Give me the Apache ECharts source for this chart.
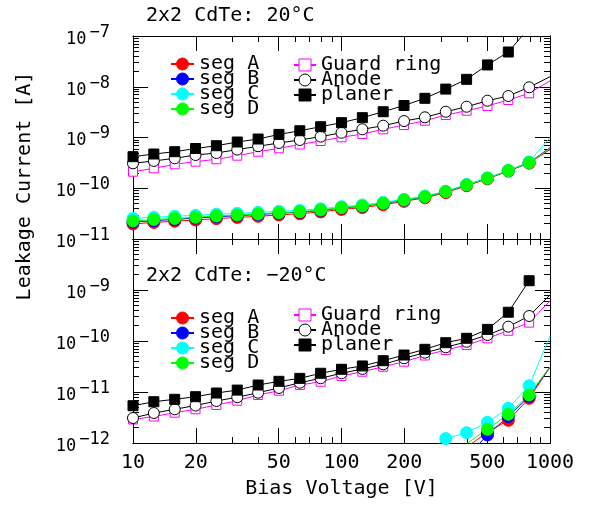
<!DOCTYPE html>
<html>
<head>
<meta charset="utf-8">
<script src="https://cdn.jsdelivr.net/npm/echarts@6/dist/echarts.min.js"></script>
<style>
  html, body { margin: 0; background: #fff; }
  #chart { width: 589px; height: 506px; }
</style>
</head>
<body>
<div id="chart"></div>
<script>
// bias voltage points (V), last one only carries the line to the frame
const bias = [10, 12.59, 15.85, 19.95, 25.12, 31.62, 39.81, 50.12, 63.10, 79.43, 100,
              125.9, 158.5, 199.5, 251.2, 316.2, 398.1, 501.2, 631.0, 794.3, 1000];

// 20°C panel (A)
const segA_hot = [1.98e-11, 2.12e-11, 2.24e-11, 2.37e-11, 2.52e-11, 2.66e-11, 2.80e-11, 2.98e-11, 3.14e-11, 3.42e-11, 3.82e-11,
                  4.16e-11, 4.72e-11, 5.52e-11, 6.48e-11, 8.2e-11, 1.12e-10, 1.53e-10, 2.18e-10, 3.12e-10, 5.8e-10];
const segB_hot = [2.15e-11, 2.30e-11, 2.43e-11, 2.58e-11, 2.74e-11, 2.88e-11, 3.03e-11, 3.22e-11, 3.38e-11, 3.66e-11, 4.08e-11,
                  4.42e-11, 5.0e-11, 5.82e-11, 6.78e-11, 8.52e-11, 1.16e-10, 1.57e-10, 2.22e-10, 3.2e-10, 6.3e-10];
const segC_hot = [2.55e-11, 2.68e-11, 2.80e-11, 2.93e-11, 3.08e-11, 3.20e-11, 3.34e-11, 3.52e-11, 3.66e-11, 3.94e-11, 4.34e-11,
                  4.68e-11, 5.26e-11, 6.06e-11, 7.0e-11, 8.75e-11, 1.18e-10, 1.6e-10, 2.26e-10, 3.3e-10, 1.0e-9];
const segD_hot = [2.26e-11, 2.42e-11, 2.54e-11, 2.68e-11, 2.84e-11, 2.97e-11, 3.11e-11, 3.30e-11, 3.45e-11, 3.73e-11, 4.14e-11,
                  4.47e-11, 5.05e-11, 5.86e-11, 6.81e-11, 8.55e-11, 1.16e-10, 1.57e-10, 2.22e-10, 3.19e-10, 6.1e-10];
const guard_hot = [2.12e-10, 2.47e-10, 2.96e-10, 3.34e-10, 3.72e-10, 4.38e-10, 5.25e-10, 6.12e-10, 7.28e-10, 8.53e-10, 1.01e-9,
                   1.17e-9, 1.45e-9, 1.76e-9, 2.14e-9, 2.77e-9, 3.37e-9, 4.18e-9, 5.48e-9, 7.43e-9, 1.31e-8];
const anode_hot = [3.10e-10, 3.45e-10, 3.89e-10, 4.52e-10, 4.95e-10, 5.78e-10, 6.72e-10, 7.80e-10, 8.93e-10, 1.04e-9, 1.24e-9,
                   1.45e-9, 1.71e-9, 2.11e-9, 2.50e-9, 3.22e-9, 4.04e-9, 5.31e-9, 6.57e-9, 9.75e-9, 1.58e-8];
const planer_hot = [4.19e-10, 4.73e-10, 5.25e-10, 6.07e-10, 6.89e-10, 8.15e-10, 9.33e-10, 1.15e-9, 1.36e-9, 1.63e-9, 1.96e-9,
                    2.46e-9, 3.22e-9, 4.27e-9, 5.92e-9, 9.0e-9, 1.40e-8, 2.69e-8, 4.84e-8, 1.45e-7, null];

// -20°C panel (A)
const segA_cold = [null, null, null, null, null, null, null, null, null, null, null,
                   null, null, null, null, null, 8.2e-13, 1.64e-12, 2.79e-12, 7.52e-12, 3.05e-11];
const segB_cold = [null, null, null, null, null, null, null, null, null, null, null,
                   null, null, null, null, null, 5.2e-13, 1.44e-12, 3.3e-12, 8.2e-12, 3.1e-11];
const segC_cold = [null, null, null, null, null, null, null, null, null, null, null,
                   null, null, null, 6e-13, 1.22e-12, 1.59e-12, 2.55e-12, 4.79e-12, 1.33e-11, 1.25e-10];
const segD_cold = [null, null, null, null, null, null, null, null, null, null, null,
                   null, null, null, null, null, 9.7e-13, 1.86e-12, 3.66e-12, 8.73e-12, 3.13e-11];
const guard_cold = [2.89e-12, 3.31e-12, 3.93e-12, 4.58e-12, 5.56e-12, 6.75e-12, 8.73e-12, 1.06e-11, 1.37e-11, 1.59e-11, 2.06e-11,
                    2.50e-11, 3.13e-11, 3.93e-11, 5.20e-11, 6.67e-11, 8.36e-11, 1.13e-10, 1.59e-10, 2.29e-10, 6.17e-10];
const anode_cold = [3.09e-12, 3.87e-12, 4.58e-12, 5.43e-12, 6.67e-12, 7.91e-12, 9.69e-12, 1.20e-11, 1.52e-11, 1.86e-11, 2.33e-11,
                    2.83e-11, 3.49e-11, 4.58e-11, 5.90e-11, 7.52e-11, 9.68e-11, 1.31e-10, 1.91e-10, 3.09e-10, 7.98e-10];
const planer_cold = [5.38e-12, 6.45e-12, 7.19e-12, 8.09e-12, 9.55e-12, 1.09e-11, 1.37e-11, 1.62e-11, 1.85e-11, 2.33e-11, 2.79e-11,
                     3.24e-11, 4.11e-11, 5.31e-11, 6.87e-11, 9.26e-11, 1.13e-10, 1.69e-10, 3.66e-10, 1.52e-9, null];

// axis ticks and labels
const xLabels = [10, 20, 50, 100, 200, 500, 1000];
const xMajor = [20, 50, 100, 200, 500];
const xMinor = [20, 30, 40, 60, 70, 80, 90, 200, 300, 400, 600, 700, 800, 900];
const hotDecades = [1e-11, 1e-10, 1e-9, 1e-8, 1e-7];
const coldDecades = [1e-12, 1e-11, 1e-10, 1e-9, 1e-8];
const coldLabels = [1e-12, 1e-11, 1e-10, 1e-9];

const FONT = 'DejaVu Sans Mono';

// 2..9 x 10^n between the decades
function minorOf(decades) {
  const out = [];
  for (let i = 0; i < decades.length - 1; i++) {
    for (let m = 2; m <= 9; m++) out.push(m * decades[i]);
  }
  return out;
}

function xAxisDef(grid, pos, ticks, len, withLabels) {
  return {
    type: 'log', logBase: 10, gridIndex: grid, position: pos, min: 10, max: 1000,
    axisLine: { show: true, onZero: false, lineStyle: { color: '#000', width: 1 } },
    axisTick: { show: true, inside: true, length: len, customValues: ticks, lineStyle: { color: '#000', width: 1 } },
    minorTick: { show: false },
    splitLine: { show: false },
    axisLabel: withLabels
      ? { show: true, customValues: xLabels, margin: 10, color: '#000', fontFamily: FONT, fontSize: 20,
          formatter: v => String(Math.round(v)) }
      : { show: false }
  };
}

function yAxisDef(grid, pos, min, max, ticks, len, labels) {
  return {
    type: 'log', logBase: 10, gridIndex: grid, position: pos, min: min, max: max,
    axisLine: { show: true, onZero: false, lineStyle: { color: '#000', width: 1 } },
    axisTick: { show: true, inside: true, length: len, customValues: ticks, lineStyle: { color: '#000', width: 1 } },
    minorTick: { show: false },
    splitLine: { show: false },
    axisLabel: labels
      ? {
          show: true, customValues: labels, margin: 23, color: '#000',
          formatter: v => '{b|10}{s|\u2212' + Math.round(-Math.log10(v)) + '}',
          rich: {
            b: { fontFamily: FONT, fontSize: 17, color: '#000', verticalAlign: 'bottom', padding: [0, 3, 0, 0] },
            s: { fontFamily: FONT, fontSize: 17, color: '#000', verticalAlign: 'bottom', padding: [0, 0, 7, 0] }
          }
        }
      : { show: false }
  };
}

// open markers get a white fill and a thin coloured border
const styles = {
  'seg A': { symbol: 'circle', size: 12, color: '#ff0000', fill: '#ff0000' },
  'seg B': { symbol: 'circle', size: 12, color: '#0000ff', fill: '#0000ff' },
  'seg C': { symbol: 'circle', size: 12, color: '#00ffff', fill: '#00ffff' },
  'seg D': { symbol: 'circle', size: 12, color: '#00ff00', fill: '#00ff00' },
  'Guard ring': { symbol: 'rect', size: 9, color: '#ff00ff', fill: '#ffffff' },
  'Anode': { symbol: 'circle', size: 11, color: '#000000', fill: '#ffffff' },
  'planer': { symbol: 'rect', size: 10, color: '#000000', fill: '#000000' }
};

function mkSeries(name, vals, axisIdx) {
  const st = styles[name];
  const last = bias.length - 1;
  return {
    type: 'line', name: name, xAxisIndex: axisIdx, yAxisIndex: axisIdx,
    clip: true, smooth: false,
    symbol: st.symbol, symbolSize: st.size,
    itemStyle: { color: st.fill, borderColor: st.color, borderWidth: 1 },
    lineStyle: { color: st.color, width: 1 },
    data: bias.map((v, i) => {
      if (vals[i] == null) return [v, '-'];
      if (i === last) return { value: [v, vals[i]], symbol: 'none' };
      return [v, vals[i]];
    })
  };
}

function legendDef(names, left, top, itemWidth) {
  return {
    data: names, orient: 'vertical', left: left, top: top,
    itemWidth: itemWidth, itemHeight: 15, itemGap: -5, padding: 0, selectedMode: false,
    itemStyle: { borderWidth: 1 },
    textStyle: { fontFamily: FONT, fontSize: 20, color: '#000' }
  };
}

const segNames = ['seg A', 'seg B', 'seg C', 'seg D'];
const otherNames = ['Guard ring', 'Anode', 'planer'];

const chart = echarts.init(document.getElementById('chart'));
chart.setOption({
  animation: false,
  backgroundColor: '#fff',
  grid: [
    { left: 133, top: 36, width: 417, height: 203, containLabel: false, outerBoundsMode: 'none' },
    { left: 133, top: 239, width: 417, height: 204, containLabel: false, outerBoundsMode: 'none' }
  ],
  title: [
    { text: '2x2 CdTe: 20°C', left: 146, top: 6, padding: 0,
      textStyle: { fontFamily: FONT, fontSize: 20, fontWeight: 'normal', color: '#000' } },
    { text: '2x2 CdTe: \u221220°C', left: 146, top: 266, padding: 0,
      textStyle: { fontFamily: FONT, fontSize: 20, fontWeight: 'normal', color: '#000' } }
  ],
  legend: [
    legendDef(segNames, 170, 54, 23),
    legendDef(otherNames, 293, 55, 22),
    legendDef(segNames, 170, 308, 23),
    legendDef(otherNames, 293, 305, 22)
  ],
  xAxis: [
    xAxisDef(0, 'bottom', xMajor, 15, false),
    xAxisDef(0, 'bottom', xMinor, 6, false),
    xAxisDef(0, 'top', xMajor, 15, false),
    xAxisDef(0, 'top', xMinor, 6, false),
    Object.assign(xAxisDef(1, 'bottom', xMajor, 15, true), {
      name: 'Bias Voltage [V]', nameLocation: 'middle', nameGap: 36,
      nameTextStyle: { fontFamily: FONT, fontSize: 20, color: '#000' }
    }),
    xAxisDef(1, 'bottom', xMinor, 6, false),
    xAxisDef(1, 'top', xMajor, 15, false),
    xAxisDef(1, 'top', xMinor, 6, false)
  ],
  yAxis: [
    yAxisDef(0, 'left', 1e-11, 1e-7, hotDecades, 15, hotDecades),
    yAxisDef(0, 'left', 1e-11, 1e-7, minorOf(hotDecades), 6, null),
    yAxisDef(0, 'right', 1e-11, 1e-7, hotDecades, 15, null),
    yAxisDef(0, 'right', 1e-11, 1e-7, minorOf(hotDecades), 6, null),
    yAxisDef(1, 'left', 1e-12, 1e-8, coldDecades, 15, coldLabels),
    yAxisDef(1, 'left', 1e-12, 1e-8, minorOf(coldDecades), 6, null),
    yAxisDef(1, 'right', 1e-12, 1e-8, coldDecades, 15, null),
    yAxisDef(1, 'right', 1e-12, 1e-8, minorOf(coldDecades), 6, null)
  ],
  graphic: [
    { type: 'text', x: 25, y: 186, rotation: Math.PI / 2,
      style: { text: 'Leakage Current [A]', font: '20px "DejaVu Sans Mono"', fill: '#000',
               textAlign: 'center', textVerticalAlign: 'middle' } }
  ],
  series: [
    mkSeries('seg A', segA_hot, 0),
    mkSeries('seg B', segB_hot, 0),
    mkSeries('seg C', segC_hot, 0),
    mkSeries('seg D', segD_hot, 0),
    mkSeries('Guard ring', guard_hot, 0),
    mkSeries('Anode', anode_hot, 0),
    mkSeries('planer', planer_hot, 0),
    mkSeries('seg A', segA_cold, 4),
    mkSeries('seg B', segB_cold, 4),
    mkSeries('seg C', segC_cold, 4),
    mkSeries('seg D', segD_cold, 4),
    mkSeries('Guard ring', guard_cold, 4),
    mkSeries('Anode', anode_cold, 4),
    mkSeries('planer', planer_cold, 4)
  ]
});
</script>
</body>
</html>
